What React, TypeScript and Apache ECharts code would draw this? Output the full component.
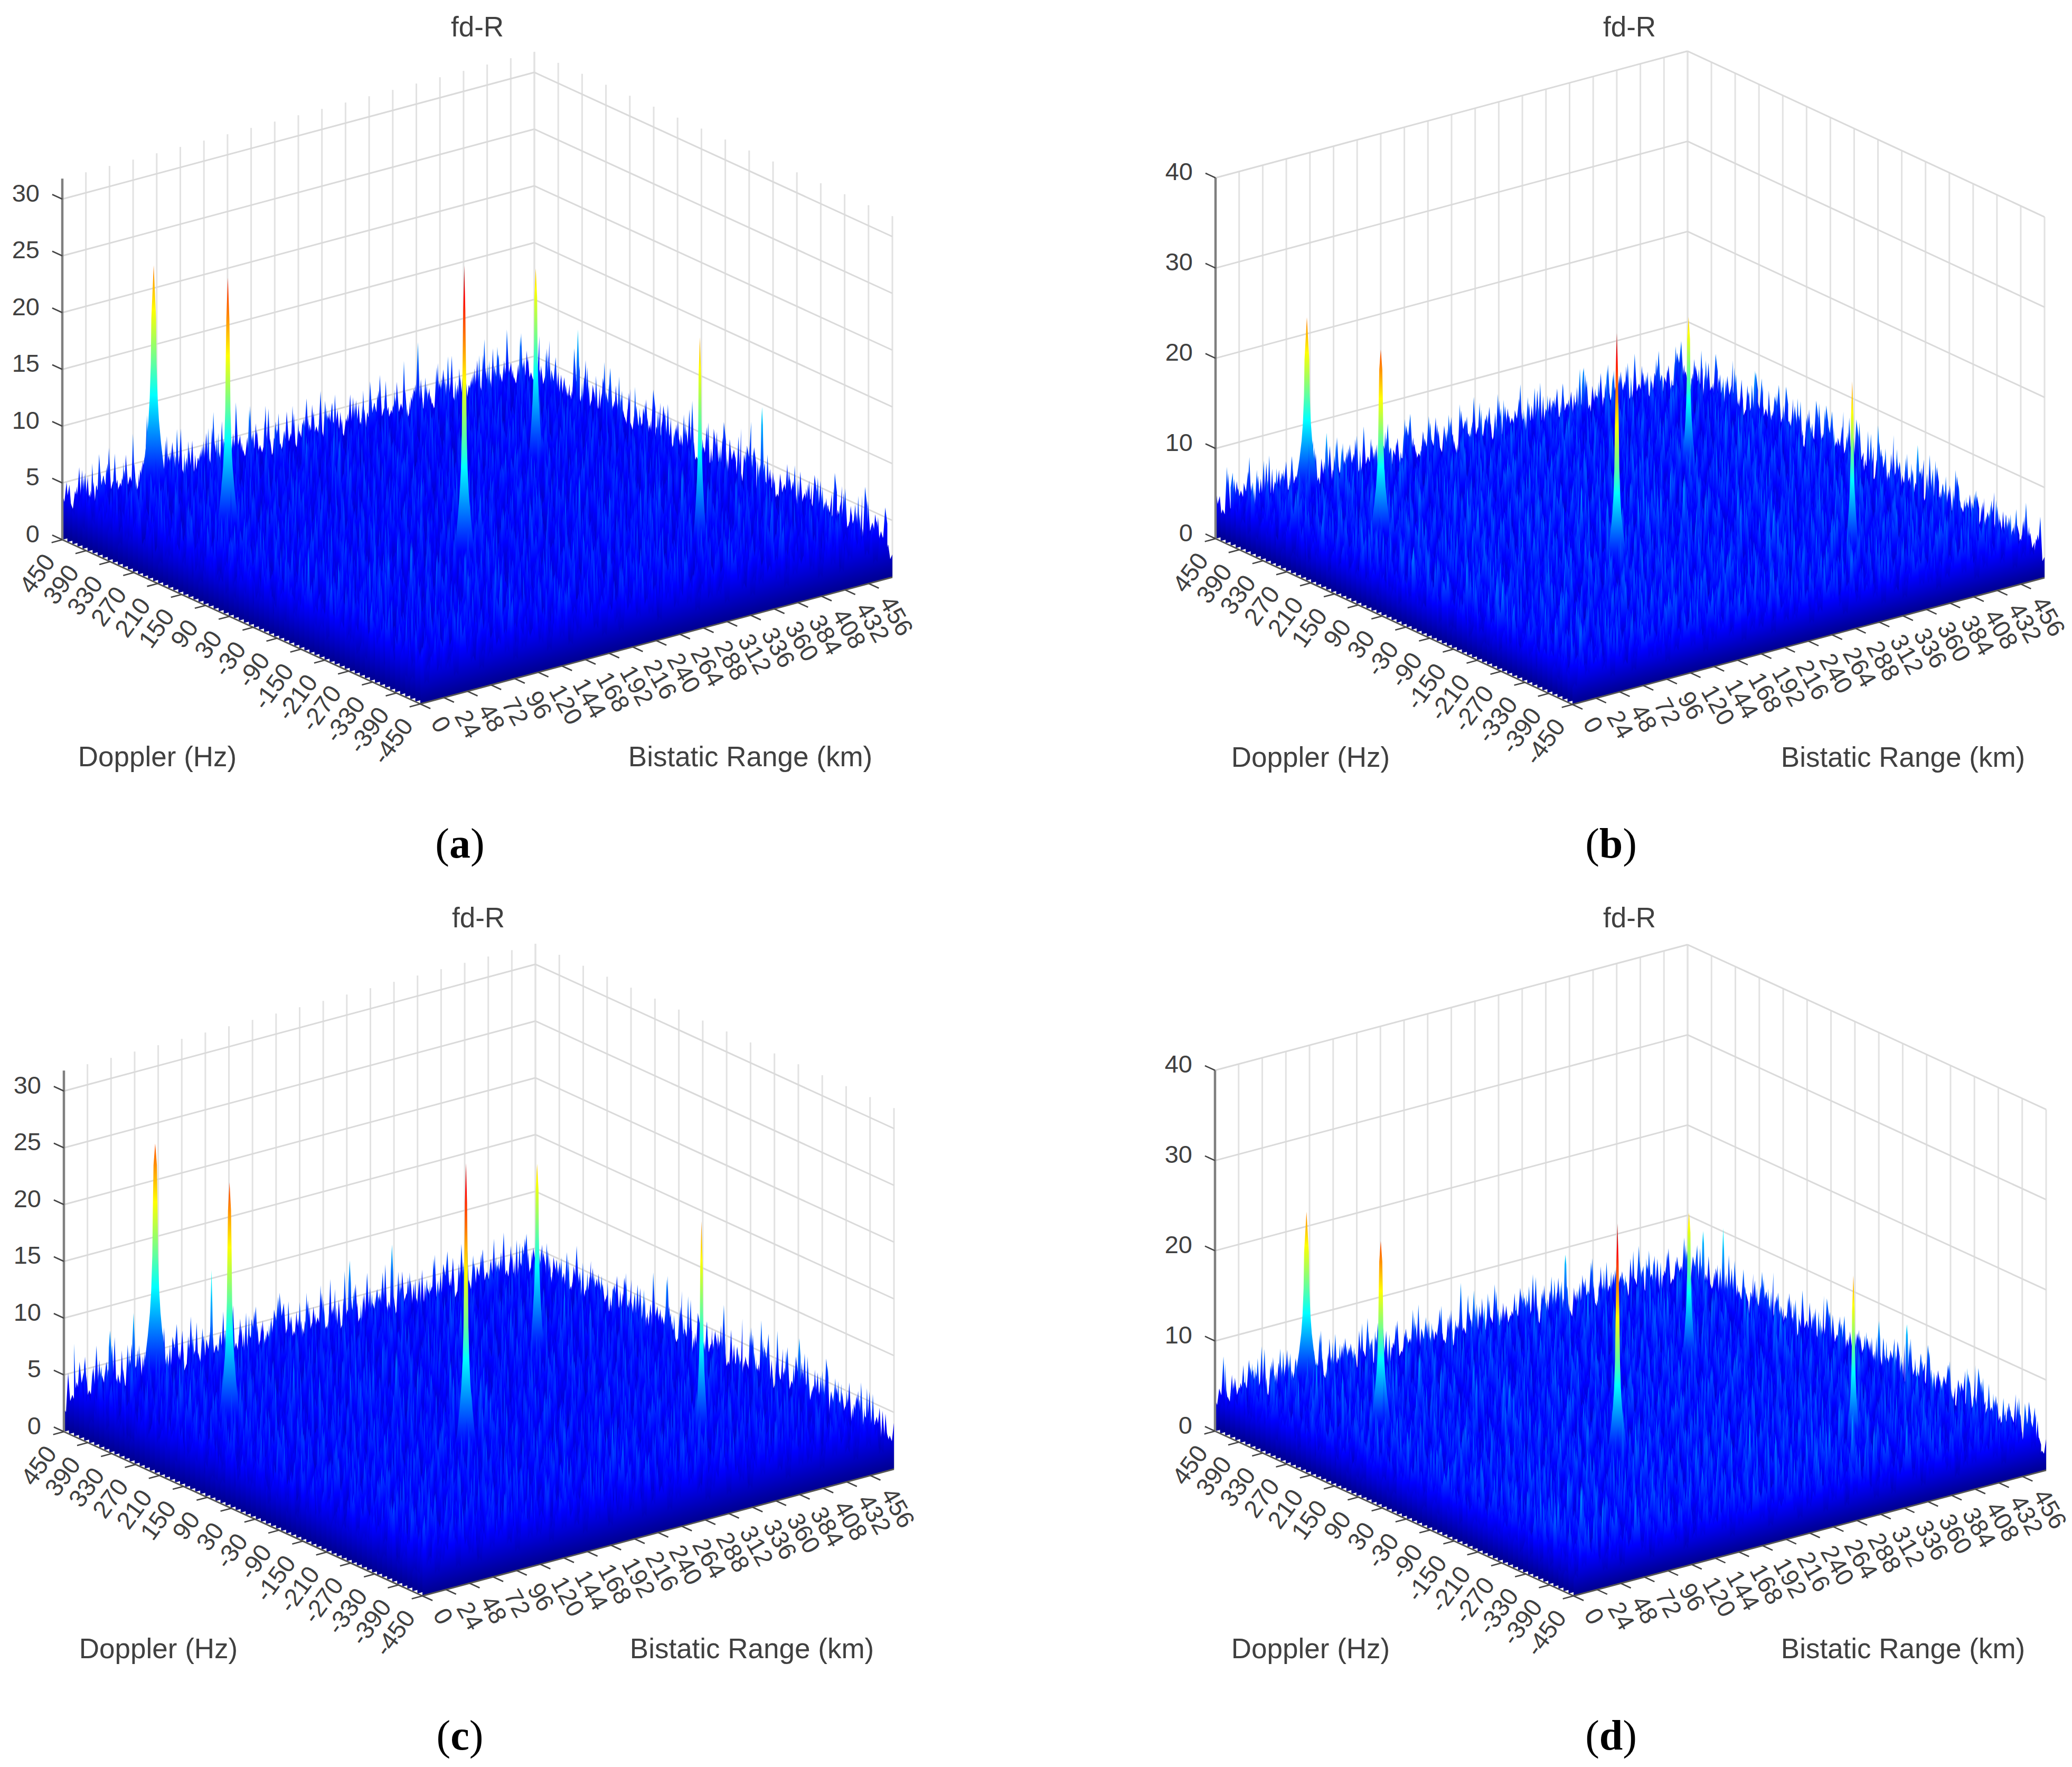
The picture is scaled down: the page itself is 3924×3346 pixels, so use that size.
import React, { useEffect, useRef } from "react";
import * as echarts from "echarts";

// ---- axis ticks ----
const dopplerTicks = [450, 390, 330, 270, 210, 150, 90, 30, -30, -90, -150, -210, -270, -330, -390, -450];
const rangeTicks = [0, 24, 48, 72, 96, 120, 144, 168, 192, 216, 240, 264, 288, 312, 336, 360, 384, 408, 432, 456];
const gridRangeTicks = [...rangeTicks, 480];
const ampTicks30 = [0, 5, 10, 15, 20, 25, 30];
const ampTicks40 = [0, 10, 20, 30, 40];

// ---- target peaks ----
const peakDoppler = [423, 197, -113, 140, -285];
const peakRange = [82, 66, 181, 356, 351];
const peakHeightA = [22.7, 25.6, 29, 20.6, 21.5];
const peakHeightB = [22.7, 24.2, 29, 20.5, 22.2];
const peakHeightC = [23.9, 24.5, 28.5, 20.3, 22.2];
const peakHeightD = [22.5, 24.3, 29.2, 20.2, 22];
const peakSpread = [1, 0.9, 0.85, 0.6, 0.55];

// ---- isolated taller noise spikes: doppler, range, height ----
const spikesA = [[306, 466, 10], [-157, 466, 10.6]];
const spikesB = [[423, 363, 8.8], [423, 102, 9.3], [-165, 466, 9.3], [250, 468, 9]];
const spikesC = [[405, 132, 11.9], [423, 60, 9.5], [423, 323, 9.4], [-247, 466, 8.6], [423, 36, 8.5], [423, 280, 9]];
const spikesD = [[326, 466, 11.5], [369, 463, 10.4], [-135, 466, 10.2], [423, 345, 10.1], [-60, 468, 9]];

// ---- noise floor heights, one digit per sample ----
const noiseRows = [
  "4534635245374426453594243564725344635436285344537245364345264735",
  "5346243756344528343645372453463524837345245364473524363574243563",
  "3546453263745342564354726345253647342563548342536453724356345274",
  "4627345343564252746345385243563424673534564325473643526344753452",
  "2534764354325463573424653743524634852435643753245346243564372534",
  "5342546372435354623745243563847324563424536473524354265374352436",
  "3645273435646253434752645343652743534962435463524374524635342563",
  "4352634574325364235473624354836243545234637245343562743546325473",
  "5463425364723456342537354263445273645342536745234365274354635243",
  "3524736453425634725346435274536342564738345243563425473536425346",
  "4635243547635234465327345624354263746325342548635243574362435364",
  "2453674352463534265374354263544725363452364534725463435263745342",
  "5374524364534627345245637342564353724563425346352474365342643573",
  "3462435746352435634725343654253473625344536274354235647342534652",
  "4523645342753464253546372435263445362734583425364735243546274354",
  "6345273546342356473524345264735342654352436345274635342563474253",
  "3542463574352643453672435345264735423564352748345263544325634725",
  "4263547325346453726435452634753443526374352453646274345253643574",
  "5374254365234745342564374352463534726354243685342536473524635342",
  "2645343572463524365473523464352743564235347245364352463745342563",
  "4356247345263543746253445327364352434653724354625347342563545273",
  "3524653474352634574263534526374345263543748352436453524673452364",
  "5463724353462534263745342563474352635342467345253463574243546325",
  "4325463743526453473524635342764352435463725344635245372436453524",
  "3674352435634725463543524673452536437245334652474354263543526347",
  "4253647345243563542674345263545372436354284352463574325463425374",
  "5342536472453634725345624374352634543726354253463524745362435463",
  "2463574352463534726453425364734524365342574635243563447352643534",
  "3754263454352637425346352435746345263547324536435274635342563453",
  "4635243672534546325374352463543724563452436473534265437254363524",
  "5324674354263445372635243546374254363524573462435643527345263544",
  "3465247354362534724563435246375342536454372463534254637245343652",
  "4273546342536734524653474352634536247345264354735243563452746345",
  "5346243754353624634574352463542735436324563748352453463527343564",
  "2534653742435463572435346274353465243754632453545362743524653435",
  "4653724354635243547263453526473543246354372534635248354263473524",
  "3547263453425364735243654372534624635473524354263547345263435462",
  "5243647354325463524736453524374635342563435472635245363747352436",
  "4365274352463573452436543762534353647243546352473584352635342547",
  "3452647345263543724635435274635342453672453546325473452634563724",
  "5634725345243564735243563474253463524736345243657234536425347263",
  "4253674352435463472543536247345263453742563435274635423547352463",
  "3546247354263543672534546327345243563452746345253647435243563475",
  "4723564352743524634653724354263547354262435473685243563425364735",
  "2645373524634553724635243547263453534627345243564735263544372536",
  "5342647435243563472535463427345635243746325345246375342536472453",
  "3465274352463547342563534724635435246374253463542736452435647352",
  "4536243746345253643574352463547325436352473546342563748352435463",
];

// ---- layout ----
const PAGE_W = 3924;
const PAGE_H = 3346;
const FONT = "Liberation Sans";
const INK = "#404040";
const ROW_COUNT = 72;
const COL_COUNT = 112;
const CMAX = 30;
const panels = [
  { tag: "a", L: [118, 1022], O: [796, 1333], B: [1012, 782], unit: 21.5, zTop: 31.8, ticks: ampTicks30, h: peakHeightA, spikes: spikesA, gain: 1, rs: 0, cs: 0,
    title: [904, 50], dop: [298, 1432], bis: [1421, 1432], cap: [871, 1597] },
  { tag: "b", L: [2302, 1020], O: [2978, 1334], B: [3196, 780], unit: 17.08, zTop: 40, ticks: ampTicks40, h: peakHeightB, spikes: spikesB, gain: 1.15, rs: 11, cs: 23,
    title: [3086, 50], dop: [2482, 1433], bis: [3604, 1433], cap: [3051, 1597] },
  { tag: "c", L: [121, 2711], O: [800, 3022], B: [1014, 2471], unit: 21.5, zTop: 31.8, ticks: ampTicks30, h: peakHeightC, spikes: spikesC, gain: 1.02, rs: 23, cs: 41,
    title: [906, 1737], dop: [300, 3121], bis: [1424, 3121], cap: [871, 3286] },
  { tag: "d", L: [2301, 2710], O: [2980, 3022], B: [3196, 2472], unit: 17.08, zTop: 40, ticks: ampTicks40, h: peakHeightD, spikes: spikesD, gain: 1.15, rs: 35, cs: 57,
    title: [3086, 1737], dop: [2482, 3121], bis: [3604, 3121], cap: [3051, 3286] },
];
type Panel = (typeof panels)[number];

const project = (p: Panel, doppler: number, range: number, z: number) => {
  const d = (450 - doppler) / 900;
  const r = range / 480;
  return [
    p.L[0] + d * (p.O[0] - p.L[0]) + r * (p.B[0] - p.L[0]),
    p.L[1] + d * (p.O[1] - p.L[1]) + r * (p.B[1] - p.L[1]) - z * p.unit,
  ];
};

const jetStops = [
  { offset: 0, color: "#00008f" },
  { offset: 0.125, color: "#0000ff" },
  { offset: 0.375, color: "#00ffff" },
  { offset: 0.625, color: "#ffff00" },
  { offset: 0.875, color: "#ff0000" },
  { offset: 1, color: "#800000" },
];
const floorStops = [
  { offset: 0, color: "#00008f" },
  { offset: 0.13, color: "#0000ff" },
  { offset: 0.19, color: "#0030ff" },
  { offset: 0.3, color: "#0098ff" },
  { offset: 0.375, color: "#00ffff" },
  { offset: 1, color: "#00ffff" },
];

const noiseAt = (p: Panel, i: number, c: number) => {
  const row = noiseRows[(i + p.rs) % noiseRows.length];
  const wrap = Math.floor((i + p.rs) / noiseRows.length);
  return Number(row[(c + p.cs + wrap * 19) % row.length]) * p.gain;
};

const line = (a: number[], b: number[], color: string, width: number) => ({
  type: "line",
  shape: { x1: a[0], y1: a[1], x2: b[0], y2: b[1] },
  style: { stroke: color, lineWidth: width },
});

const text = (x: number, y: number, str: string, size: number, align: string, rotation = 0) => ({
  type: "text",
  x,
  y,
  rotation,
  style: { text: str, fontFamily: FONT, fontSize: size, fill: INK, align, verticalAlign: "middle" },
});

const wallChildren = (p: Panel, api: any) => {
  const c = (q: number[]) => api.coord(q);
  const out: any[] = [];
  gridRangeTicks.forEach((R) => out.push(line(c(project(p, 450, R, 0)), c(project(p, 450, R, p.zTop)), "#e2e2e2", 3)));
  dopplerTicks.forEach((f) => out.push(line(c(project(p, f, 480, 0)), c(project(p, f, 480, p.zTop)), "#e2e2e2", 3)));
  p.ticks.forEach((z) => {
    const back = c(project(p, 450, 480, z));
    out.push(line(c(project(p, 450, 0, z)), back, "#dadada", 3));
    out.push(line(back, c(project(p, -450, 480, z)), "#dadada", 3));
  });
  return out;
};

const rowShape = (p: Panel, i: number, api: any) => {
  const doppler = 450 - (900 * i) / (ROW_COUNT - 1);
  const pts: number[][] = [api.coord(project(p, doppler, 0, 0))];
  const stagger = i % 2 ? 0.5 : 0;
  const step = 480 / (COL_COUNT - 0.5);
  pts.push(api.coord(project(p, doppler, 0, noiseAt(p, i, 0) * 0.8)));
  for (let k = 0; k < COL_COUNT; k++) {
    const h = noiseAt(p, i, k);
    const next = noiseAt(p, i, k + 1);
    const R = (k + stagger) * step;
    pts.push(api.coord(project(p, doppler, R, h)));
    if (k < COL_COUNT - 1) pts.push(api.coord(project(p, doppler, R + step / 2, Math.min(h, next) * 0.82)));
  }
  pts.push(api.coord(project(p, doppler, 480, noiseAt(p, i, COL_COUNT - 1) * 0.75)));
  pts.push(api.coord(project(p, doppler, 480, 0)));
  // colour follows height above the row's own slanted baseline
  const a = api.coord(project(p, doppler, 0, 0));
  const e = api.coord(project(p, doppler, 480, 0));
  const len = Math.hypot(e[0] - a[0], e[1] - a[1]);
  const ux = (e[0] - a[0]) / len;
  const uy = (e[1] - a[1]) / len;
  const top = CMAX * p.unit * ux;
  const fill = new echarts.graphic.LinearGradient(a[0], a[1], a[0] + uy * top, a[1] - ux * top, floorStops, true);
  return { type: "polygon", shape: { points: pts }, style: { fill } };
};

const peakProfile = [[0, 30], [3, 26], [5, 19], [7, 14], [9, 10], [11, 7.5], [14, 5.5], [18, 4.5], [22, 3.2], [25, 2.4]];

const peakShape = (p: Panel, f: number, R: number, tip: number, spread: number, api: any) => {
  const base = api.coord(project(p, f, R, 0));
  const top = api.coord(project(p, f, R, tip));
  const left: number[][] = [];
  const right: number[][] = [];
  peakProfile.forEach(([z, w]) => {
    if (z >= tip - 1) return;
    const y = base[1] - z * p.unit;
    const hw = Math.max(w * spread, 1.6);
    left.push([base[0] - hw, y]);
    right.unshift([base[0] + hw, y]);
  });
  const fill = new echarts.graphic.LinearGradient(base[0], base[1], base[0], base[1] - CMAX * p.unit, jetStops, true);
  return { type: "polygon", shape: { points: [...left, top, ...right] }, style: { fill } };
};

const surfaceItems = (p: Panel) => {
  const items: any[] = [];
  for (let i = 0; i < ROW_COUNT; i++) items.push({ order: i, kind: "row", i });
  p.h.forEach((tip, k) => {
    const f = peakDoppler[k];
    items.push({ order: ((450 - f) / 900) * (ROW_COUNT - 1) + 0.01, kind: "peak", f, R: peakRange[k], tip, spread: peakSpread[k] });
  });
  p.spikes.forEach(([f, R, tip]) => {
    items.push({ order: ((450 - f) / 900) * (ROW_COUNT - 1) + 0.01, kind: "peak", f, R, tip, spread: 0.16 });
  });
  return items.sort((a, b) => a.order - b.order);
};

const axisChildren = (p: Panel, api: any) => {
  const c = (q: number[]) => api.coord(q);
  const out: any[] = [];
  const L = c(project(p, 450, 0, 0));
  const O = c(project(p, -450, 0, 0));
  const R = c(project(p, -450, 480, 0));
  const B = c(project(p, 450, 480, 0));
  const rv = [B[0] - L[0], B[1] - L[1]];
  const dv = [O[0] - L[0], O[1] - L[1]];
  const rn = Math.hypot(rv[0], rv[1]);
  const dn = Math.hypot(dv[0], dv[1]);
  const tick = 21;
  const backR = [(-rv[0] / rn) * tick, (-rv[1] / rn) * tick];
  const frontD = [(dv[0] / dn) * tick, (dv[1] / dn) * tick];
  out.push(line(L, O, "#555555", 3));
  out.push(line(O, R, "#555555", 3));
  out.push(line(L, c(project(p, 450, 0, p.zTop)), "#7f7f7f", 4.5));
  dopplerTicks.forEach((f) => {
    const q = c(project(p, f, 0, 0));
    out.push(line(q, [q[0] + backR[0], q[1] + backR[1]], "#444444", 2.6));
    out.push(text(q[0] - 25, q[1] + 32, String(f), 47, "right", (54 * Math.PI) / 180));
  });
  rangeTicks.forEach((r) => {
    const q = c(project(p, -450, r, 0));
    out.push(line(q, [q[0] + frontD[0], q[1] + frontD[1]], "#444444", 2.6));
    out.push(text(q[0] + 33, q[1] + 27, String(r), 47, "left", (-60 * Math.PI) / 180));
  });
  p.ticks.forEach((z) => {
    const q = c(project(p, 450, 0, z));
    out.push(line(q, [q[0] - frontD[0], q[1] - frontD[1]], "#444444", 2.6));
    out.push(text(q[0] - 43, q[1] - 12, String(z), 47, "right"));
  });
  out.push(text(p.title[0], p.title[1], "fd-R", 53, "center"));
  out.push(text(p.dop[0], p.dop[1], "Doppler (Hz)", 53, "center"));
  out.push(text(p.bis[0], p.bis[1], "Bistatic Range (km)", 53, "center"));
  out.push({
    type: "text",
    x: p.cap[0],
    y: p.cap[1],
    style: {
      text: `{r|(}{b|${p.tag}}{r|)}`,
      align: "center",
      verticalAlign: "middle",
      rich: {
        r: { fontFamily: "Liberation Serif", fontSize: 80, fill: "#000000" },
        b: { fontFamily: "Liberation Serif", fontSize: 80, fontWeight: "bold", fill: "#000000" },
      },
    },
  });
  return out;
};

const buildOption = () => {
  const series: any[] = [];
  panels.forEach((p) => {
    series.push({
      type: "custom", coordinateSystem: "cartesian2d", silent: true, clip: false, z: 1, progressive: 0,
      data: [[0, 0]],
      renderItem: (_: any, api: any) => ({ type: "group", children: wallChildren(p, api) }),
    });
    const items = surfaceItems(p);
    series.push({
      type: "custom", coordinateSystem: "cartesian2d", silent: true, clip: false, z: 2, progressive: 0,
      data: items.map((_, i) => [i, 0]),
      renderItem: (params: any, api: any) => {
        const it = items[params.dataIndex];
        return it.kind === "row" ? rowShape(p, it.i, api) : peakShape(p, it.f, it.R, it.tip, it.spread, api);
      },
    });
    series.push({
      type: "custom", coordinateSystem: "cartesian2d", silent: true, clip: false, z: 3, progressive: 0,
      data: [[0, 0]],
      renderItem: (_: any, api: any) => ({ type: "group", children: axisChildren(p, api) }),
    });
  });
  return {
    animation: false,
    backgroundColor: "#ffffff",
    grid: { left: 0, right: 0, top: 0, bottom: 0 },
    xAxis: { type: "value", min: 0, max: PAGE_W, show: false },
    yAxis: { type: "value", min: 0, max: PAGE_H, inverse: true, show: false },
    series,
  };
};

export default function App() {
  const ref = useRef<HTMLDivElement>(null);
  useEffect(() => {
    document.body.style.margin = "0";
    const chart = echarts.init(ref.current, null, { renderer: "svg" });
    chart.setOption(buildOption() as any);
    return () => chart.dispose();
  }, []);
  return <div ref={ref} style={{ width: PAGE_W, height: PAGE_H }} />;
}
